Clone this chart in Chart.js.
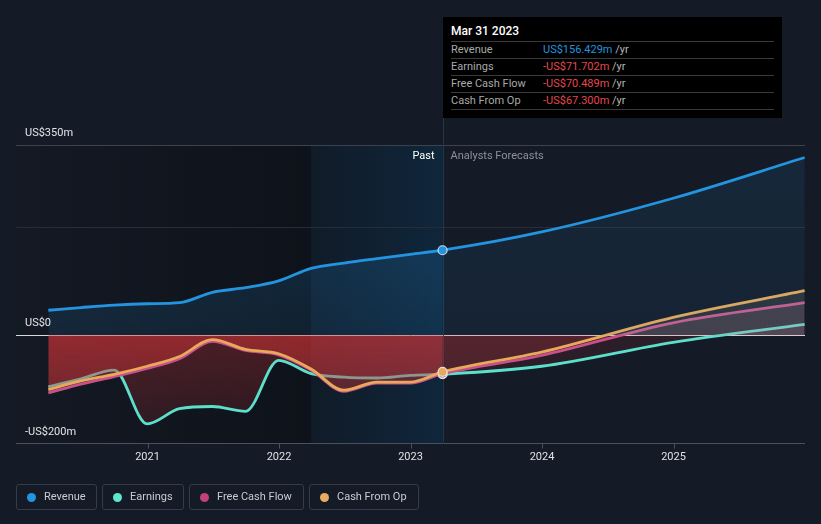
<!DOCTYPE html>
<html>
<head>
<meta charset="utf-8">
<script src="https://cdn.jsdelivr.net/npm/chart.js@4/dist/chart.umd.min.js"></script>
<style>
  html, body { margin:0; padding:0; background:#151b26; }
  body { width:821px; height:524px; position:relative; overflow:hidden; font-family: Roboto, "Noto Sans", sans-serif; }
  #c { position:absolute; left:0; top:0; }
  .abs { position:absolute; white-space:nowrap; }
  #tip { position:absolute; left:443px; top:17px; width:339px; height:101px; background:#000; }
  .sep { position:absolute; left:8px; width:323px; height:1px; background:#3a3a3a; }
  .lbl { position:absolute; left:8px; font-size:11px; color:#a9a9a9; line-height:14px; }
  .val { position:absolute; left:100px; font-size:11px; line-height:14px; }
  .yr { color:#b5b5b5; }
  .leg { position:absolute; top:484px; height:26px; border:1px solid #363d49; border-radius:3px; box-sizing:border-box; }
  .leg i { position:absolute; left:10px; top:8px; width:9px; height:9px; border-radius:50%; }
  .leg span { position:absolute; left:27px; top:5px; font-size:11px; color:#c9cbd0; line-height:14px; }
</style>
</head>
<body>
<canvas id="c" width="821" height="524"></canvas>

<div id="tip">
  <div class="abs" style="left:8px;top:7px;font-size:12px;color:#fff;font-weight:500;line-height:14px;">Mar 31 2023</div>
  <div class="sep" style="top:24px"></div>
  <div class="lbl" style="top:26px">Revenue</div>
  <div class="val" style="top:26px"><span style="color:#2394df">US$156.429m</span> <span class="yr">/yr</span></div>
  <div class="sep" style="top:41px"></div>
  <div class="lbl" style="top:43px">Earnings</div>
  <div class="val" style="top:43px"><span style="color:#e5484d">-US$71.702m</span> <span class="yr">/yr</span></div>
  <div class="sep" style="top:58px"></div>
  <div class="lbl" style="top:60px">Free Cash Flow</div>
  <div class="val" style="top:60px"><span style="color:#e5484d">-US$70.489m</span> <span class="yr">/yr</span></div>
  <div class="sep" style="top:75px"></div>
  <div class="lbl" style="top:77px">Cash From Op</div>
  <div class="val" style="top:77px"><span style="color:#e5484d">-US$67.300m</span> <span class="yr">/yr</span></div>
  <div class="sep" style="top:92px"></div>
</div>

<div class="leg" style="left:16px;width:81px"><i style="background:#2394df"></i><span>Revenue</span></div>
<div class="leg" style="left:102px;width:82px"><i style="background:#5ee6cf"></i><span>Earnings</span></div>
<div class="leg" style="left:189px;width:115px"><i style="background:#c3407f"></i><span>Free Cash Flow</span></div>
<div class="leg" style="left:309px;width:110px"><i style="background:#e8ad62"></i><span>Cash From Op</span></div>

<script>
// ---------------- DATA ----------------
const dates = ['2020-03-31','2020-06-30','2020-09-30','2020-12-31','2021-03-31','2021-06-30',
               '2021-09-30','2021-12-31','2022-03-31','2022-06-30','2022-09-30','2022-12-31',
               '2023-03-31','2023-12-31','2024-12-31','2025-12-31'];
const revenue  = [46, 51, 55.5, 58, 60, 79, 87.5, 100, 123, 132.7, 141, 149, 156.429, 190, 252, 327];
const earnings = [-95, -80, -64, -163, -135, -131, -140, -46, -70.6, -77, -78.6, -73.7, -71.702, -57, -13, 20];
const fcf      = [-106, -90, -76, -61, -43, -11, -28, -36, -64, -103, -88, -88, -70.489, -37, 23, 60];
const cfo      = [-100, -84, -72, -57, -39, -8, -26, -34, -62, -101, -86, -86, -67.3, -31, 33, 82];
const xTickYears = [2021, 2022, 2023, 2024, 2025];
const yLabelValues = [350, 0, -200];
const yLabelTexts = ['US$350m', 'US$0', '-US$200m'];
const yGridValues = [350, 200];
const PAST_START = '2022-03-31';
const NOW = '2023-03-31';
const X_MIN = 2020, X_MAX = 2026, Y_MIN = -200, Y_MAX = 350;

// ---------------- HELPERS ----------------
function toYear(s) {
  const [y, m, d] = s.split('-').map(Number);
  const t = Date.UTC(y, m - 1, d), a = Date.UTC(y, 0, 1), b = Date.UTC(y + 1, 0, 1);
  return y + (t - a) / (b - a);
}
const pts = arr => arr.map((v, i) => ({ x: toYear(dates[i]), y: v }));
const nowIdx = dates.indexOf(NOW);

const RED_PAST = ['rgba(208,52,56,0.31)', 'rgba(208,52,56,0.12)'];
const RED_FUT  = ['rgba(205,55,60,0.13)', 'rgba(205,55,60,0.09)'];
const fillSpecs = {
  revenue: { past: ['rgba(35,148,223,0.26)', 'rgba(35,148,223,0.11)', 'rgba(0,0,0,0)', 'rgba(0,0,0,0)'],
             fut:  ['rgba(35,148,223,0.11)', 'rgba(35,148,223,0.07)', 'rgba(0,0,0,0)', 'rgba(0,0,0,0)'] },
  earnings:{ past: ['rgba(212,115,153,0.12)', 'rgba(212,115,153,0.12)', ...RED_PAST],
             fut:  ['rgba(212,115,153,0.10)', 'rgba(212,115,153,0.10)', ...RED_FUT] },
  fcf:     { past: ['rgba(212,115,153,0.15)', 'rgba(212,115,153,0.15)', ...RED_PAST],
             fut:  ['rgba(212,115,153,0.15)', 'rgba(212,115,153,0.15)', ...RED_FUT] },
  cfo:     { past: ['rgba(220,200,160,0.12)', 'rgba(220,200,160,0.12)', ...RED_PAST],
             fut:  ['rgba(220,200,160,0.12)', 'rgba(220,200,160,0.12)', ...RED_FUT] }
};
const patCache = {};
function fillPattern(chart, name) {
  const area = chart.chartArea;
  if (!area || !chart.scales.x) return 'rgba(0,0,0,0)';
  const key = name + '|' + area.left + '|' + area.top + '|' + area.right + '|' + area.bottom;
  if (patCache[key]) return patCache[key];
  const c = document.createElement('canvas');
  c.width = chart.width; c.height = chart.height;
  const g = c.getContext('2d');
  const y0 = chart.scales.y.getPixelForValue(0);
  const xNow = chart.scales.x.getPixelForValue(toYear(NOW));
  const paint = (x1, x2, s) => {
    let gr = g.createLinearGradient(0, area.top, 0, y0);
    gr.addColorStop(0, s[0]); gr.addColorStop(1, s[1]);
    g.fillStyle = gr; g.fillRect(x1, area.top - 5, x2 - x1, y0 - area.top + 5);
    gr = g.createLinearGradient(0, y0, 0, area.bottom);
    gr.addColorStop(0, s[2]); gr.addColorStop(1, s[3]);
    g.fillStyle = gr; g.fillRect(x1, y0, x2 - x1, area.bottom - y0 + 5);
  };
  paint(0, xNow, fillSpecs[name].past);
  paint(xNow, c.width, fillSpecs[name].fut);
  patCache[key] = chart.ctx.createPattern(c, 'no-repeat');
  return patCache[key];
}

function series(label, name, arr, color, order) {
  return {
    label, data: pts(arr), order,
    borderColor: color, borderWidth: 2.8,
    backgroundColor: ctx => fillPattern(ctx.chart, name),
    fill: 'origin',
    cubicInterpolationMode: 'monotone',
    pointRadius: ctx => ctx.dataIndex === nowIdx ? 4.5 : 0,
    pointHoverRadius: 0,
    pointBackgroundColor: color,
    pointBorderColor: 'rgba(235,240,245,0.85)',
    pointBorderWidth: 1.2
  };
}

// ---------------- DECORATION PLUGIN ----------------
const deco = {
  id: 'deco',
  beforeDatasetsDraw(chart) {
    const { ctx, chartArea: a, scales: { x, y } } = chart;
    const xPast = x.getPixelForValue(toYear(PAST_START));
    const xNow = x.getPixelForValue(toYear(NOW));
    ctx.save();
    // darker past region
    let gr = ctx.createLinearGradient(a.left, 0, xPast, 0);
    gr.addColorStop(0, 'rgba(8,10,14,0.06)');
    gr.addColorStop(1, 'rgba(8,10,14,0.5)');
    ctx.fillStyle = gr;
    ctx.fillRect(a.left, a.top, xPast - a.left, a.bottom - a.top);
    // last-year band
    gr = ctx.createLinearGradient(xPast, 0, xNow, 0);
    gr.addColorStop(0, '#111b28');
    gr.addColorStop(1, '#0f263b');
    ctx.fillStyle = gr;
    ctx.fillRect(xPast, a.top, xNow - xPast, a.bottom - a.top);
    // grid lines
    ctx.lineWidth = 1;
    yGridValues.forEach((v, i) => {
      const py = Math.round(y.getPixelForValue(v)) + 0.5;
      ctx.strokeStyle = i === 0 ? '#3b424f' : '#262d38';
      ctx.beginPath(); ctx.moveTo(a.left, py); ctx.lineTo(a.right, py); ctx.stroke();
    });
    // bottom axis line
    const pb = Math.round(y.getPixelForValue(Y_MIN)) - 0.5;
    ctx.strokeStyle = '#4a505c';
    ctx.beginPath(); ctx.moveTo(a.left, pb); ctx.lineTo(a.right, pb); ctx.stroke();
    // ticks
    xTickYears.forEach(yr => {
      const px = Math.round(x.getPixelForValue(yr)) + 0.5;
      ctx.beginPath(); ctx.moveTo(px, pb); ctx.lineTo(px, pb + 5); ctx.stroke();
    });
    // zero line
    const p0 = Math.round(y.getPixelForValue(0)) + 0.5;
    ctx.strokeStyle = '#d9d9d9';
    ctx.beginPath(); ctx.moveTo(a.left, p0); ctx.lineTo(a.right, p0); ctx.stroke();
    // "now" vertical line
    const pn = Math.round(xNow) + 0.5;
    ctx.strokeStyle = '#24364a';
    ctx.beginPath(); ctx.moveTo(pn, 118); ctx.lineTo(pn, a.bottom); ctx.stroke();
    ctx.restore();
  },
  afterDraw(chart) {
    const { ctx, chartArea: a, scales: { x, y } } = chart;
    const xNow = x.getPixelForValue(toYear(NOW));
    ctx.save();
    ctx.font = '11px Roboto';
    ctx.textBaseline = 'middle';
    // y labels
    ctx.fillStyle = '#e2e4e8';
    ctx.textAlign = 'left';
    yLabelValues.forEach((v, i) => {
      ctx.fillText(yLabelTexts[i], a.left + 9, y.getPixelForValue(v) - 12);
    });
    // past / forecast
    ctx.fillStyle = '#ffffff';
    ctx.textAlign = 'right';
    ctx.fillText('Past', xNow - 8, a.top + 11);
    ctx.fillStyle = '#8b909a';
    ctx.textAlign = 'left';
    ctx.fillText('Analysts Forecasts', xNow + 8, a.top + 11);
    // x tick labels
    ctx.fillStyle = '#dfe1e5';
    ctx.textAlign = 'center';
    xTickYears.forEach(yr => {
      ctx.fillText(String(yr), x.getPixelForValue(yr), a.bottom + 13);
    });
    ctx.restore();
  }
};

// ---------------- CHART ----------------
function init() {
  new Chart(document.getElementById('c'), {
    type: 'line',
    data: {
      datasets: [
        series('Revenue', 'revenue', revenue, '#2394df', 1),
        series('Cash From Op', 'cfo', cfo, '#e8a95a', 2),
        series('Free Cash Flow', 'fcf', fcf, '#c9508b', 3),
        series('Earnings', 'earnings', earnings, '#5ce0cb', 4)
      ]
    },
    options: {
      responsive: false,
      animation: false,
      layout: { padding: { left: 16, right: 16, top: 145, bottom: 80 } },
      scales: {
        x: { type: 'linear', min: X_MIN, max: X_MAX, display: false },
        y: { type: 'linear', min: Y_MIN, max: Y_MAX, display: false }
      },
      plugins: { legend: { display: false }, tooltip: { enabled: false } },
      events: []
    },
    plugins: [deco]
  });
}
if (document.fonts && document.fonts.load) {
  document.fonts.load('11px Roboto').then(init, init);
} else { init(); }
</script>
</body>
</html>
